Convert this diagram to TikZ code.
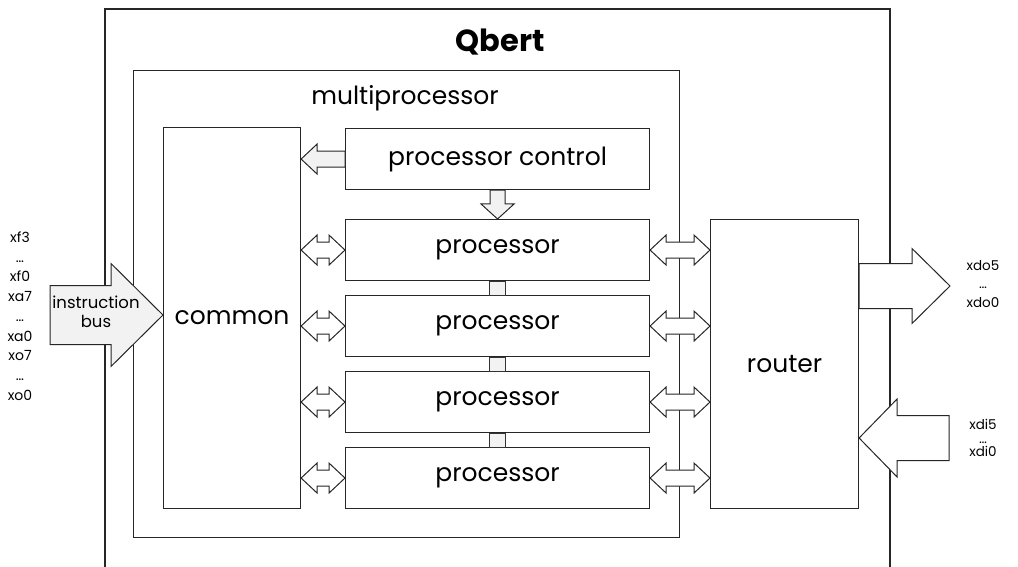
\documentclass[tikz,border=0pt]{standalone}
\usepackage{fontspec}
\setmainfont{Poppins}
\usetikzlibrary{calc}

% horizontal block arrow: style, tail point, tip point, head length, head half-width, shaft half-width
\newcommand\harrow[6]{%
  \path[#1] let \p1=(#2), \p2=(#3), \n1={sign(\x2-\x1)} in
    (\x1,{\y2+#6}) -- ({\x2-\n1*#4},{\y2+#6}) -- ({\x2-\n1*#4},{\y2+#5})
    -- (\x2,\y2) -- ({\x2-\n1*#4},{\y2-#5}) -- ({\x2-\n1*#4},{\y2-#6})
    -- (\x1,{\y2-#6}) -- cycle;}

% horizontal double-headed block arrow between a left and a right point
\newcommand\dblarrow[2]{%
  \path[port] let \p1=(#1), \p2=(#2) in
    (\x1,\y2) -- ({\x1+16pt},{\y2+15pt}) -- ({\x1+16pt},{\y2+8pt})
    -- ({\x2-16pt},{\y2+8pt}) -- ({\x2-16pt},{\y2+15pt}) -- (\x2,\y2)
    -- ({\x2-16pt},{\y2-15pt}) -- ({\x2-16pt},{\y2-8pt})
    -- ({\x1+16pt},{\y2-8pt}) -- ({\x1+16pt},{\y2-15pt}) -- cycle;}

\begin{document}
\begin{tikzpicture}[x=1pt,y=-1pt,line join=miter,
  box/.style={draw=black!85,line width=1.1pt,fill=white,inner sep=0pt},
  big/.style={font=\fontsize{25}{28}\selectfont},
  proc/.style={box,big,minimum width=304pt,minimum height=61pt,anchor=north west},
  link/.style={draw=black!80,line width=1pt,fill=black!5},
  port/.style={draw=black!85,line width=1pt,fill=white},
  feed/.style={draw=black!85,line width=1pt,fill=black!5},
  sig/.style={align=center,inner sep=0pt},
]
\useasboundingbox (0,0) rectangle (1018,567);

% outer chip outline (runs off the bottom)
\draw[draw=black!85,line width=1.1pt] (105,567) |- (890,9) -- (890,567);
\node[font=\bfseries\fontsize{30.5}{33}\selectfont] (qbert) at (500,42) {Qbert};

% multiprocessor block
\node[box,minimum width=546pt,minimum height=467pt,anchor=north west] (mp) at (133,70) {};
\node[big] (mptitle) at (405,98) {multiprocessor};

\node[box,big,minimum width=137pt,minimum height=381pt,anchor=north west] (common) at (163,127) {common};
\node[proc] (pc) at (345,128) {processor control};
\node[proc] (p1) at (345,219) {processor};
\node[proc] (p2) at (345,295) {processor};
\node[proc] (p3) at (345,371) {processor};
\node[proc] (p4) at (345,447) {processor};

\node[box,big,minimum width=148pt,minimum height=289pt,anchor=north west] (router) at (710,219) {router};

% links between neighbouring processors
\draw[link] ($(p1.south)+(-8,0)$) rectangle ($(p2.north)+(8,0)$);
\draw[link] ($(p2.south)+(-8,0)$) rectangle ($(p3.north)+(8,0)$);
\draw[link] ($(p3.south)+(-8,0)$) rectangle ($(p4.north)+(8,0)$);

% processor control to common and to the first processor
\harrow{feed}{pc.west}{common.east |- pc.west}{16pt}{15pt}{8pt}
\path[feed] let \p1=(pc.south), \p2=(p1.north) in
  ({\x1-7.5pt},\y1) -- ({\x1-7.5pt},{\y2+15pt}) -- ({\x1-16.5pt},{\y2+15pt})
  -- (\x1,\y2) -- ({\x1+16.5pt},{\y2+15pt}) -- ({\x1+7.5pt},{\y2+15pt})
  -- ({\x1+7.5pt},\y1) -- cycle;

% common <-> processors, processors <-> router
\foreach \q in {p1,p2,p3,p4}{
  \dblarrow{common.east |- \q.west}{\q.west}
  \dblarrow{\q.east}{router.west |- \q.east}
}

% instruction bus into common
\coordinate (ibtail) at (50,315);
\harrow{feed}{ibtail}{common.west |- ibtail}{52pt}{51.5pt}{29.5pt}
\node[sig,font=\fontsize{16.5}{19}\selectfont] (iblabel) at (96,312) {instruction\\bus};

% data ports of the router
\coordinate (dotip) at (950,286);
\harrow{port}{router.east |- dotip}{dotip}{38pt}{37.5pt}{22.5pt}
\coordinate (ditail) at (949,438);
\harrow{port}{ditail}{router.east |- ditail}{38pt}{39pt}{22.5pt}

% signal names
\node[sig,font=\fontsize{14}{19.75}\selectfont] (inputs) at (20,316)
  {xf3\\…\\xf0\\xa7\\…\\xa0\\xo7\\…\\xo0};
\node[sig,font=\fontsize{13.5}{18.5}\selectfont] (dout) at (983,284) {xdo5\\…\\xdo0};
\node[sig,font=\fontsize{13.5}{13.5}\selectfont] (din) at (983,438) {xdi5\\…\\xdi0};
\end{tikzpicture}
\end{document}
